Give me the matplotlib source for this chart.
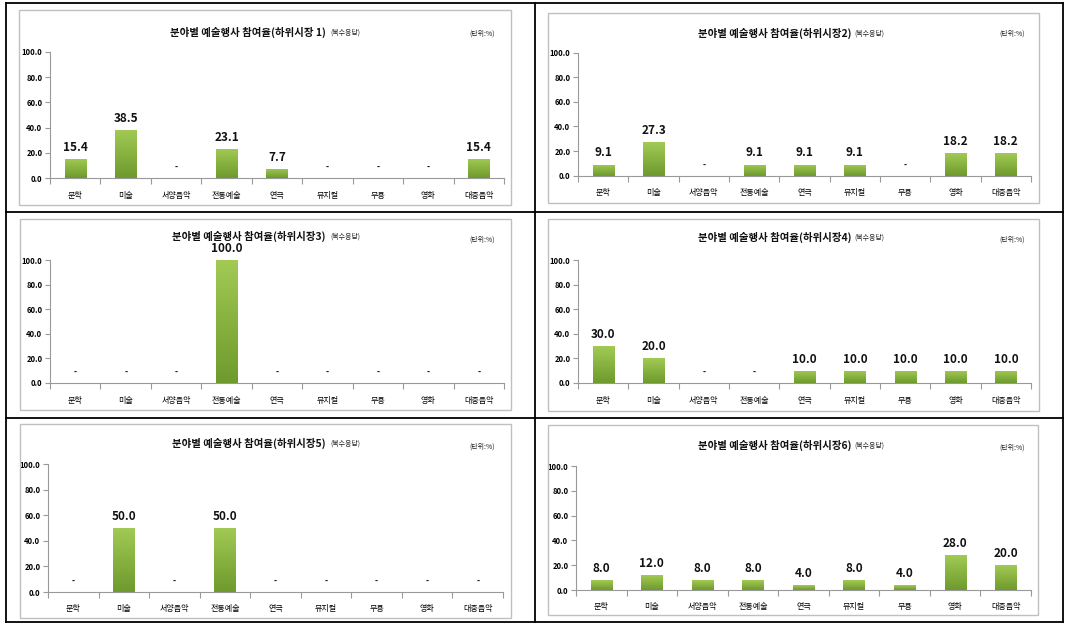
import numpy as np
import matplotlib
matplotlib.use("Agg")
import matplotlib.pyplot as plt
from matplotlib.colors import LinearSegmentedColormap
from matplotlib.lines import Line2D
from matplotlib.patches import Rectangle

plt.rcParams['font.family'] = ['Noto Sans CJK KR', 'DejaVu Sans']

categories = ['문학', '미술', '서양음악', '전통예술', '연극', '뮤지컬', '무용', '영화', '대중음악']
market1 = [15.4, 38.5, 0, 23.1, 7.7, 0, 0, 0, 15.4]
market2 = [9.1, 27.3, 0, 9.1, 9.1, 9.1, 0, 18.2, 18.2]
market3 = [0, 0, 0, 100.0, 0, 0, 0, 0, 0]
market4 = [30.0, 20.0, 0, 0, 10.0, 10.0, 10.0, 10.0, 10.0]
market5 = [0, 50.0, 0, 50.0, 0, 0, 0, 0, 0]
market6 = [8.0, 12.0, 8.0, 8.0, 4.0, 8.0, 4.0, 28.0, 20.0]
titles = ['분야별 예술행사 참여율(하위시장 1)', '분야별 예술행사 참여율(하위시장2)',
          '분야별 예술행사 참여율(하위시장3)', '분야별 예술행사 참여율(하위시장4)',
          '분야별 예술행사 참여율(하위시장5)', '분야별 예술행사 참여율(하위시장6)']
subtitle = '(복수응답)'
unit_text = '(단위:%)'
yticks = [0, 20, 40, 60, 80, 100]

series = [market1, market2, market3, market4, market5, market6]

W, H = 1065, 623
fig = plt.figure(figsize=(W / 100, H / 100), dpi=100)
fig.patch.set_facecolor('white')

def fx(x):
    return x / W

def fy(y):
    return 1 - y / H

# table borders
border_kw = dict(color='black', lw=1.3, transform=fig.transFigure)
for (x0, y0, x1, y1) in [(6, 3, 1063, 3), (6, 3, 6, 623), (1063, 3, 1063, 623),
                         (535, 3, 535, 623), (6, 212, 1063, 212), (6, 418, 1063, 418),
                         (6, 622, 1063, 622)]:
    fig.add_artist(Line2D([fx(x0), fx(x1)], [fy(y0), fy(y1)], **border_kw))

# chart boxes (left, top, right, bottom)
boxes = [(19, 10, 511, 205), (548, 13, 1039, 203),
         (20, 219, 511, 410), (548, 219, 1039, 411),
         (20, 424, 511, 618), (548, 425, 1038, 615)]
for (l, t, r, b) in boxes:
    fig.add_artist(Rectangle((fx(l), fy(b)), fx(r) - fx(l), fy(t) - fy(b),
                             transform=fig.transFigure, fill=False,
                             edgecolor='#c0c0c0', lw=1.0))

# plot areas (left, right, y of 100, y of 0)
areas = [(50, 504, 51.7, 178.3), (578, 1031, 52.7, 175.7),
         (50, 504, 260, 383), (578, 1031, 260, 383),
         (48, 503, 464, 592), (576, 1031, 466, 590)]
# title anchors: (main right x, subtitle left x, title y, unit right x, unit y)
title_pos = [(326, 330, 32, 495, 33.5), (851, 854, 33, 1025, 34),
             (326, 330, 236, 495, 240), (851, 854, 237, 1025, 240),
             (326, 330, 443, 495, 447), (851, 854, 445, 1025, 448)]

cmap = LinearSegmentedColormap.from_list('g', ['#6e9a2e', '#88b240', '#a2ca55'])
grad = np.linspace(0, 1, 256).reshape(-1, 1)
bar_w = 0.42

for i, vals in enumerate(series):
    l, r, ytop, ybot = areas[i]
    ax = fig.add_axes([fx(l), fy(ybot), fx(r) - fx(l), fy(ytop) - fy(ybot)])
    x = np.arange(len(categories))
    bars = ax.bar(x, vals, width=bar_w, color='#88b240', zorder=2)
    for rect, v in zip(bars, vals):
        if v > 0:
            im = ax.imshow(grad, extent=[rect.get_x(), rect.get_x() + rect.get_width(), 0, v],
                           origin='lower', cmap=cmap, aspect='auto', zorder=3)
            im.set_clip_path(rect)
        label = f'{v:.1f}' if v > 0 else '-'
        ax.annotate(label, (rect.get_x() + rect.get_width() / 2, v),
                    xytext=(0, 8.3 if v > 0 else 7.5), textcoords='offset points',
                    ha='center', va='center', fontsize=8.5 if v > 0 else 6,
                    fontweight='bold', color='#111111', clip_on=False, annotation_clip=False)
    ax.set_xlim(-0.5, len(categories) - 0.5)
    ax.set_ylim(0, 100)
    ax.set_yticks(yticks)
    ax.set_yticklabels([f'{t:.1f}' for t in yticks], fontsize=5.5, fontweight='bold')
    ax.set_xticks(np.arange(len(categories) + 1) - 0.5)
    ax.set_xticklabels([])
    ax.set_xticks(x, minor=True)
    ax.set_xticklabels(categories, minor=True, fontsize=5.8)
    ax.tick_params(axis='x', which='major', length=4, color='#999999', direction='out')
    ax.tick_params(axis='x', which='minor', length=0, pad=9)
    ax.tick_params(axis='y', length=3.5, color='#999999', pad=2)
    for s in ['top', 'right']:
        ax.spines[s].set_visible(False)
    for s in ['left', 'bottom']:
        ax.spines[s].set_color('#999999')
        ax.spines[s].set_linewidth(0.8)
    ax.set_facecolor('none')

    mr, sl, ty, ur, uy = title_pos[i]
    fig.text(fx(mr), fy(ty), titles[i], ha='right', va='center', fontsize=7.5,
             fontweight='bold', color='#111111')
    fig.text(fx(sl), fy(ty + 1), subtitle, ha='left', va='center', fontsize=5,
             color='#222222')
    fig.text(fx(ur), fy(uy), unit_text, ha='right', va='center', fontsize=5,
             color='#222222')

fig.savefig('out.png', dpi=100)
